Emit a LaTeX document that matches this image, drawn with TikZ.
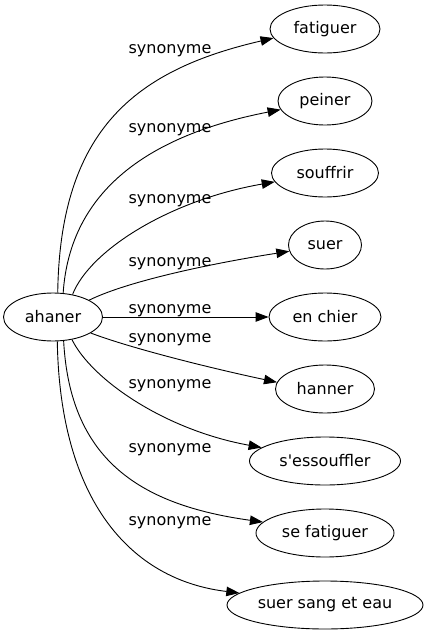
\documentclass[tikz,border=0pt]{standalone}
\usepackage{fontspec}
\setmainfont{DejaVu Sans}
\usetikzlibrary{shapes.geometric,arrows.meta}
\begin{document}
\begin{tikzpicture}[x=1pt,y=-1pt,
  word/.style={ellipse,draw,line width=0.9pt,inner sep=0pt,minimum height=48pt,font=\fontsize{16}{19}\selectfont},
  rel/.style={font=\fontsize{16}{19}\selectfont,anchor=base,inner sep=0pt},
  link/.style={line width=0.9pt,-{Triangle[length=13pt,width=9.5pt]}}]
\path[use as bounding box] (0,0) rectangle (427,635);
\node[word,minimum width=99pt] (ahaner) at (53,317) {ahaner};
\node[word,minimum width=110pt] (fatiguer) at (325,29) {fatiguer};
\node[word,minimum width=94pt] (peiner) at (325,101) {peiner};
\node[word,minimum width=107pt] (souffrir) at (325,173) {souffrir};
\node[word,minimum width=73pt] (suer) at (325,245) {suer};
\node[word,minimum width=112pt] (enchier) at (325,317) {en chier};
\node[word,minimum width=99pt] (hanner) at (325,389) {hanner};
\node[word,minimum width=151pt] (sessouffler) at (325,461) {s\textquotesingle essouffler};
\node[word,minimum width=138pt] (sefatiguer) at (325,533) {se fatiguer};
\node[word,minimum width=196pt] (ssee) at (325,605) {suer sang et eau};
\draw[link] (ahaner.79) .. controls (60,130) and (135,70) .. (fatiguer.190);
\draw[link] (ahaner.67) .. controls (70,190) and (150,135) .. (peiner.191);
\draw[link] (ahaner.49) .. controls (90,250) and (170,200) .. (souffrir.190);
\draw[link] (ahaner.25) .. controls (130,280) and (220,262) .. (suer.190);
\draw[link] (ahaner) -- (enchier);
\draw[link] (ahaner.-23) .. controls (130,348) and (210,368) .. (hanner.172);
\draw[link] (ahaner.-50) .. controls (92,380) and (165,430) .. (sessouffler.168);
\draw[link] (ahaner.-66) .. controls (70,460) and (140,505) .. (sefatiguer.170);
\draw[link] (ahaner.-80) .. controls (60,500) and (130,580) .. (ssee.172);
\node[rel] (l1) at (170,53) {synonyme};
\node[rel] (l2) at (170,132) {synonyme};
\node[rel] (l3) at (170,203) {synonyme};
\node[rel] (l4) at (170,266) {synonyme};
\node[rel] (l5) at (170,313) {synonyme};
\node[rel] (l6) at (170,342) {synonyme};
\node[rel] (l7) at (170,388) {synonyme};
\node[rel] (l8) at (170,452) {synonyme};
\node[rel] (l9) at (170,525) {synonyme};
\end{tikzpicture}
\end{document}
